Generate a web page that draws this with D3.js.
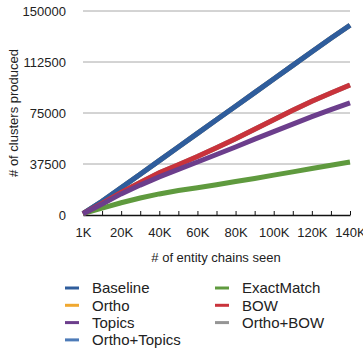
<!DOCTYPE html>
<html>
<head>
<meta charset="utf-8">
<script src="https://cdn.jsdelivr.net/npm/d3@7"></script>
<style>
  body { margin: 0; background: #fff; }
  text { font-family: "Liberation Sans", Arial, sans-serif; fill: #222; }
</style>
</head>
<body>
<svg width="363" height="352"></svg>
<script>
// chains seen (x categories)
const chains = ["1K", "10K", "20K", "30K", "40K", "50K", "60K", "70K", "80K", "90K", "100K", "110K", "120K", "130K", "140K"];
const yTicks = [0, 37500, 75000, 112500, 150000];

// clusters produced per system
const baseline    = [1000, 10000, 20000, 30000, 40000, 50000, 60000, 70000, 80000, 90000, 100000, 110000, 120000, 130000, 139500];
const ortho       = [1000, 10000, 20000, 30000, 40000, 50000, 60000, 70000, 80000, 90000, 100000, 110000, 120000, 130000, 139500];
const orthoTopics = [1000, 10000, 20000, 30000, 40000, 50000, 60000, 70000, 80000, 90000, 100000, 110000, 120000, 130000, 139500];
const exactMatch  = [1000, 5000, 9000, 12500, 15500, 18000, 20000, 22300, 24600, 26900, 29300, 31700, 34200, 36600, 39000];
const bow         = [1000, 8500, 16500, 24000, 31000, 37000, 43000, 49500, 56000, 63000, 70000, 77000, 83700, 89700, 95600];
const orthoBow    = [1000, 8500, 16500, 24000, 31000, 37000, 43000, 49500, 56000, 63000, 70000, 77000, 83700, 89700, 95600];
const topics      = [1000, 8000, 15500, 22000, 28000, 33500, 39000, 44500, 50000, 55800, 61300, 66800, 72300, 77500, 82500];

const series = [
  { name: "Ortho", values: ortho, color: "#f0a830" },
  { name: "Ortho+BOW", values: orthoBow, color: "#959595" },
  { name: "Ortho+Topics", values: orthoTopics, color: "#4d7bb8" },
  { name: "Baseline", values: baseline, color: "#2f5d9c" },
  { name: "ExactMatch", values: exactMatch, color: "#5f9a3e" },
  { name: "BOW", values: bow, color: "#c9333b" },
  { name: "Topics", values: topics, color: "#6c3e8c" }
];

const legendOrder = ["Baseline", "Ortho", "Topics", "Ortho+Topics", "ExactMatch", "BOW", "Ortho+BOW"];

const svg = d3.select("svg");

const x = d3.scalePoint().domain(chains).range([83, 350]);
const y = d3.scaleLinear().domain([0, 150000]).range([215, 11]);

// grid
svg.append("g")
  .selectAll("line")
  .data(yTicks.slice(1))
  .enter()
  .append("line")
  .attr("x1", 83)
  .attr("x2", 350)
  .attr("y1", d => y(d))
  .attr("y2", d => y(d))
  .attr("stroke", "#a8a8a8")
  .attr("stroke-width", 1);

// y labels
svg.append("g")
  .selectAll("text")
  .data(yTicks)
  .enter()
  .append("text")
  .attr("x", 66)
  .attr("y", d => y(d))
  .attr("dy", "0.35em")
  .attr("text-anchor", "end")
  .attr("font-size", 13)
  .text(d => d);

// x axis
const xAxis = svg.append("g")
  .attr("transform", "translate(0,215)")
  .call(d3.axisBottom(x)
    .tickSizeInner(-4)
    .tickSizeOuter(0)
    .tickPadding(13)
    .tickFormat((d, i) => i % 2 === 0 ? d : ""));
xAxis.select(".domain").attr("stroke", "#111").attr("stroke-width", 1.5);
xAxis.selectAll(".tick line").attr("stroke", "#111");
xAxis.selectAll(".tick text")
  .attr("font-size", 13)
  .attr("font-family", "Liberation Sans, Arial, sans-serif")
  .attr("fill", "#222");

// lines
const line = d3.line()
  .x((d, i) => x(chains[i]))
  .y(d => y(d));

svg.append("g")
  .selectAll("path")
  .data(series)
  .enter()
  .append("path")
  .attr("d", s => line(s.values))
  .attr("fill", "none")
  .attr("stroke", s => s.color)
  .attr("stroke-width", 5);

// titles
svg.append("text")
  .attr("x", 216)
  .attr("y", 257)
  .attr("dy", "0.35em")
  .attr("text-anchor", "middle")
  .attr("font-size", 13)
  .text("# of entity chains seen");

svg.append("text")
  .attr("transform", "translate(13,113) rotate(-90)")
  .attr("dy", "0.35em")
  .attr("text-anchor", "middle")
  .attr("font-size", 13)
  .text("# of clusters produced");

// legend
const legend = svg.append("g")
  .selectAll("g")
  .data(legendOrder)
  .enter()
  .append("g")
  .attr("transform", (d, i) => {
    const col = i < 4 ? 0 : 1;
    const row = i < 4 ? i : i - 4;
    return `translate(${col ? 215 : 65},${288 + row * 17.3})`;
  });

legend.append("line")
  .attr("x1", 0)
  .attr("x2", 14)
  .attr("stroke", d => series.find(s => s.name === d).color)
  .attr("stroke-width", 3);

legend.append("text")
  .attr("x", 27)
  .attr("dy", "0.35em")
  .attr("font-size", 15)
  .text(d => d);
</script>
</body>
</html>
